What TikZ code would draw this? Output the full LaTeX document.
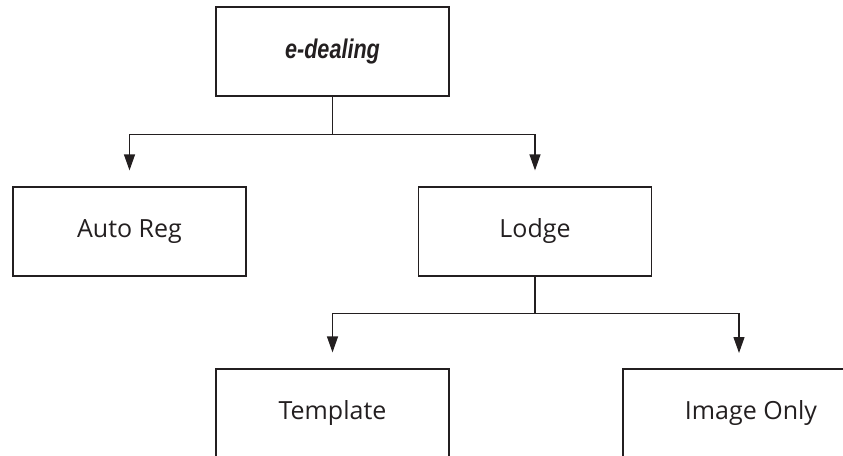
\documentclass[tikz,border=0pt]{standalone}
\usepackage{fontspec}
\setmainfont{Open Sans}
\newfontfamily\headfont{Liberation Sans}
\usetikzlibrary{arrows.meta}
\definecolor{ink}{HTML}{231F20}
\begin{document}
\begin{tikzpicture}[x=1pt,y=-1pt,
  box/.style={draw=ink,line width=1.2pt,minimum width=233pt,minimum height=89pt,inner sep=0pt,text=ink,font=\fontsize{25}{28}\selectfont},
  wire/.style={draw=ink,line width=1.2pt},
  arr/.style={wire,-{Triangle[length=16pt,width=11pt]},shorten >=16pt}]
\useasboundingbox (0,0) rectangle (843,455);
\clip (0,0) rectangle (843,455);
\node[box] (ed) at (332.5,51.5) {\headfont\bfseries\itshape\fontsize{27}{30}\selectfont\scalebox{0.8}[1]{e-dealing}};
\node[box] (auto) at (129.5,231.5) {Auto Reg};
\node[box] (lodge) at (535,231.5) {Lodge};
\node[box] (tmpl) at (332.5,413.5) {Template};
\node[box,minimum width=256pt] (img) at (751,413.5) {Image Only};
\coordinate (imgin) at (739,369);
\draw[wire] (ed.south) -- ++(0,38) coordinate (b1);
\draw[arr] (b1) -| (auto.north);
\draw[arr] (b1) -| (lodge.north);
\draw[wire] (lodge.south) -- ++(0,37) coordinate (b2);
\draw[arr] (b2) -| ([yshift=0pt]tmpl.north);
\draw[arr] (b2) -| (imgin);
\end{tikzpicture}
\end{document}
